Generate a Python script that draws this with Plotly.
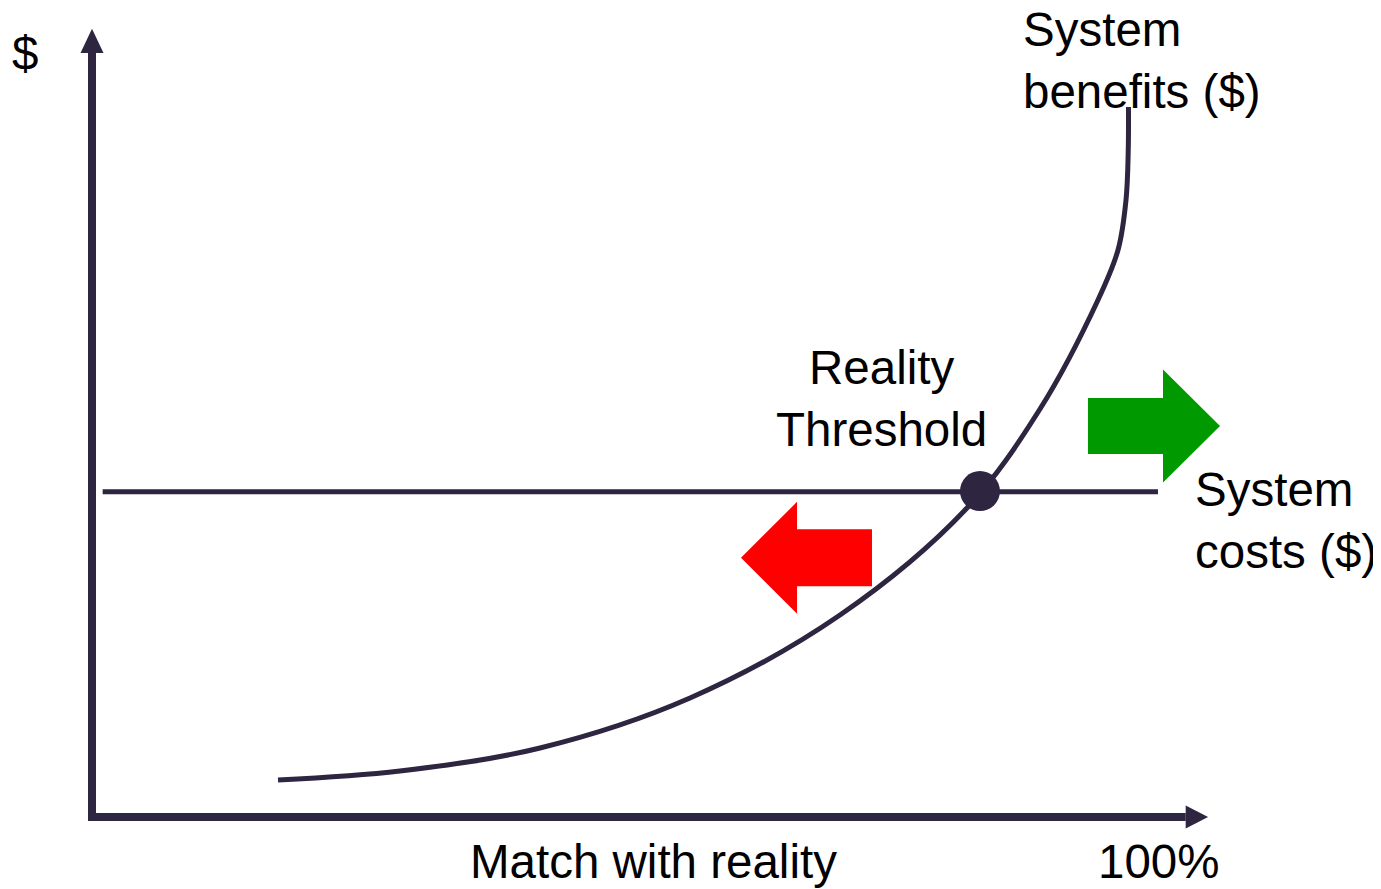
import plotly.graph_objects as go

# ---- Data (x: match with reality in %, y: $ in arbitrary units) ----
benefit_x = [17.45, 28.89, 42.03, 56.10, 70.17, 82.08, 88.93, 94.37, 96.25, 97.00, 97.21, 97.23]
benefit_y = [5.21, 6.48, 9.72, 16.76, 28.45, 43.52, 57.46, 72.82, 79.86, 86.90, 93.94, 100.0]
cost_x = [1.0, 100.0]
cost_level = 45.8
threshold_x = [83.3]
threshold_y = [45.9]

labels = {
    "benefits": "System<br>benefits ($)",
    "costs": "System<br>costs ($)",
    "threshold": "Reality<br>Threshold",
    "xlabel": "Match with reality",
    "xmax": "100%",
    "ylabel": "$",
}

# ---- Layout geometry ----
# The figure div sits 8px inside the page (default body margin)
W, H = 1373, 881
X_RANGE = [-7.88, 120.92]
Y_RANGE = [-10.14, 113.94]
PX_X = W / (X_RANGE[1] - X_RANGE[0])   # pixels per x unit
PX_Y = H / (Y_RANGE[1] - Y_RANGE[0])   # pixels per y unit
DARK = "#2E2541"
FONT = "Liberation Sans, Arial, sans-serif"


def path(pts):
    return "M " + " L ".join(f"{x},{y}" for x, y in pts) + " Z"


def h_arrow(x_tail, x_head_base, x_tip, yc, body_half_px, head_half_px):
    bh = body_half_px / PX_Y
    hh = head_half_px / PX_Y
    return path([(x_tail, yc + bh), (x_head_base, yc + bh), (x_head_base, yc + hh),
                 (x_tip, yc), (x_head_base, yc - hh), (x_head_base, yc - bh),
                 (x_tail, yc - bh)])


fig = go.Figure()

fig.add_trace(go.Scatter(x=cost_x, y=[cost_level, cost_level], mode="lines",
                         line=dict(color=DARK, width=5), hoverinfo="skip"))
fig.add_trace(go.Scatter(x=benefit_x, y=benefit_y, mode="lines",
                         line=dict(color=DARK, width=5, shape="spline", smoothing=1.0),
                         hoverinfo="skip"))
fig.add_trace(go.Scatter(x=threshold_x, y=threshold_y, mode="markers",
                         marker=dict(color=DARK, size=40), hoverinfo="skip"))

shapes = []
# axes
y_top = 107.6
x_right = 102.6
shapes.append(dict(type="line", x0=0, x1=0, y0=-4 / PX_Y, y1=y_top,
                   line=dict(color=DARK, width=8)))
shapes.append(dict(type="line", x0=0, x1=x_right, y0=0, y1=0,
                   line=dict(color=DARK, width=8)))
hw = 11.5 / PX_X
shapes.append(dict(type="path", path=path([(-hw, y_top), (0, 111.0), (hw, y_top)]),
                   fillcolor=DARK, line=dict(width=0)))
hh = 11.5 / PX_Y
shapes.append(dict(type="path", path=path([(x_right, hh), (104.7, 0), (x_right, -hh)]),
                   fillcolor=DARK, line=dict(width=0)))
# red arrow (pointing left)
shapes.append(dict(type="path", path=h_arrow(73.17, 66.14, 60.88, 36.5, 28.5, 56),
                   fillcolor="#FF0000", line=dict(width=0)))
# green arrow (pointing right)
shapes.append(dict(type="path", path=h_arrow(93.43, 100.47, 105.82, 55.07, 28, 56.5),
                   fillcolor="#009900", line=dict(width=0)))

fig.update_layout(shapes=shapes)

fs = 47.5
ann = [
    dict(x=87.24, y=106.6, text=labels["benefits"], xanchor="left", yanchor="middle", align="left"),
    dict(x=74.1, y=58.9, text=labels["threshold"], xanchor="center", yanchor="middle", align="center"),
    dict(x=103.38, y=41.8, text=labels["costs"], xanchor="left", yanchor="middle", align="left"),
    dict(x=-6.29, y=107.5, text=labels["ylabel"], xanchor="center", yanchor="middle"),
    dict(x=52.7, y=-6.3, text=labels["xlabel"], xanchor="center", yanchor="middle"),
    dict(x=100.1, y=-6.3, text=labels["xmax"], xanchor="center", yanchor="middle"),
]
for a in ann:
    a.update(showarrow=False, font=dict(family=FONT, size=fs, color="black"),
             borderpad=0, xref="x", yref="y")
fig.update_layout(annotations=ann)

fig.update_layout(
    width=W, height=H,
    margin=dict(l=0, r=0, t=0, b=0),
    paper_bgcolor="white", plot_bgcolor="white",
    showlegend=False,
    xaxis=dict(range=X_RANGE, visible=False, fixedrange=True),
    yaxis=dict(range=Y_RANGE, visible=False, fixedrange=True),
)

fig.write_html("out.html", config={"displayModeBar": False})
